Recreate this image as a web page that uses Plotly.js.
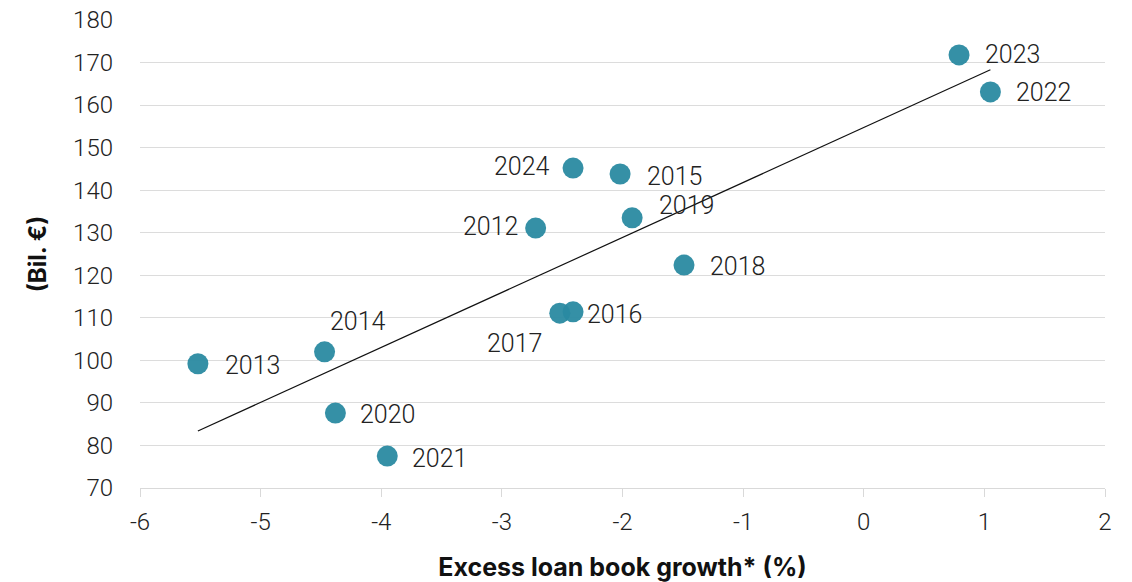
<!DOCTYPE html>
<html>
<head>
<meta charset="utf-8">
<script src="https://cdn.plot.ly/plotly-3.0.1.min.js"></script>
<style>
html,body{margin:0;padding:0;background:#fff;}
#chart{width:1132px;height:582px;}
</style>
</head>
<body>
<div id="chart"></div>
<script>
// Data
const years = ["2012","2013","2014","2015","2016","2017","2018","2019","2020","2021","2022","2023","2024"];
const excessLoanGrowth = [-2.72,-5.52,-4.47,-2.02,-2.41,-2.52,-1.49,-1.92,-4.38,-3.95,1.05,0.79,-2.41];
const valueBil = [131.1,99.2,102.0,143.8,111.4,111.1,122.4,133.5,87.6,77.5,163.1,171.8,145.2];
// Trend line end points
const trendX = [-5.52, 1.05];
const trendY = [83.4, 168.3];
// X tick values and labels (hyphen minus as in reference)
const xTickVals = [-6,-5,-4,-3,-2,-1,0,1,2];
const xTickText = ["-6","-5","-4","-3","-2","-1","0","1","2"];

// Label placement per year (style only)
const labelPlace = {
  "2012": {xanchor:"right", xshift:-16, yshift:2},
  "2013": {xanchor:"left", xshift:25, yshift:-2},
  "2014": {xanchor:"center", xshift:33, yshift:30},
  "2015": {xanchor:"left", xshift:25, yshift:-2},
  "2016": {xanchor:"left", xshift:12, yshift:-3},
  "2017": {xanchor:"center", xshift:-45, yshift:-30},
  "2018": {xanchor:"left", xshift:24, yshift:-1},
  "2019": {xanchor:"left", xshift:25, yshift:12},
  "2020": {xanchor:"left", xshift:23, yshift:-1},
  "2021": {xanchor:"left", xshift:23, yshift:-2},
  "2022": {xanchor:"left", xshift:24, yshift:-1},
  "2023": {xanchor:"left", xshift:24, yshift:0},
  "2024": {xanchor:"right", xshift:-21, yshift:2}
};

const FONT = "Roboto, Inter, 'Noto Sans', sans-serif";
const BOLD = "Inter, 'Noto Sans', sans-serif";

const annotations = years.map((yr, i) => Object.assign({
  x: excessLoanGrowth[i], y: valueBil[i], xref:"x", yref:"y",
  text: yr, showarrow:false, yanchor:"middle",
  font:{family:FONT, size:25, color:"#222", weight:300}
}, labelPlace[yr]));

const traces = [
  {
    x: trendX, y: trendY, mode:"lines", type:"scatter",
    line:{color:"#111", width:1.2}, hoverinfo:"skip", showlegend:false
  },
  {
    x: excessLoanGrowth, y: valueBil, mode:"markers", type:"scatter",
    marker:{color:"#2a8aa1", size:21, opacity:0.95, line:{width:0}},
    text: years, showlegend:false
  }
];

const layout = {
  width:1132, height:582,
  margin:{l:140, r:27, t:20, b:94},
  paper_bgcolor:"#fff", plot_bgcolor:"#fff",
  showlegend:false,
  font:{family:FONT, color:"#222"},
  xaxis:{
    range:[-6,2], tickmode:"array", tickvals:xTickVals, ticktext:xTickText,
    showgrid:false, zeroline:false,
    showline:true, linecolor:"#d9d9d9", linewidth:1,
    ticks:"outside", ticklen:8, tickcolor:"#d9d9d9", tickwidth:1,
    ticklabelstandoff:4,
    tickfont:{family:FONT, size:24, color:"#222", weight:300},
    title:{text:"Excess loan book growth* (%)", standoff:25,
      font:{family:BOLD, size:25, color:"#111", weight:700}}
  },
  yaxis:{
    range:[70,180], dtick:10, tick0:70,
    showgrid:true, gridcolor:"#dcdcdc", gridwidth:1,
    zeroline:false, showline:false,
    ticks:"", ticklabelstandoff:26,
    tickfont:{family:FONT, size:24, color:"#222", weight:300},
    title:{text:"(Bil. €)", standoff:19,
      font:{family:BOLD, size:24, color:"#111", weight:700}}
  },
  annotations: annotations
};

Plotly.newPlot("chart", traces, layout, {displayModeBar:false, staticPlot:true});
</script>
</body>
</html>
